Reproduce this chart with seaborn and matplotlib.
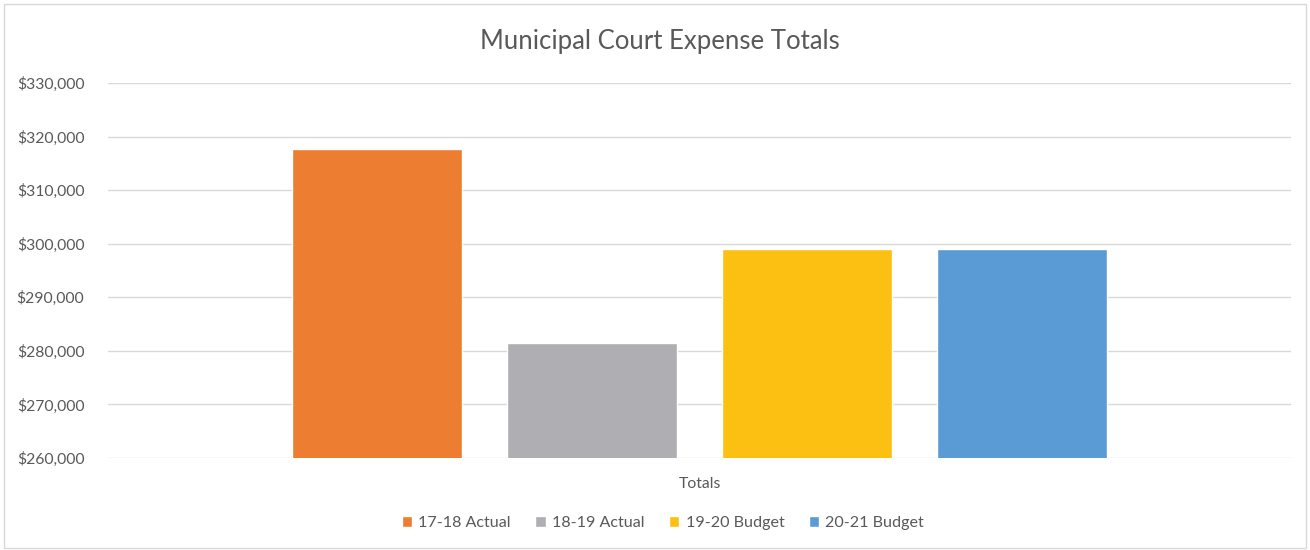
import matplotlib.pyplot as plt
import matplotlib.ticker as mticker
import pandas as pd
import seaborn as sns

sns.set_theme(style="white")
plt.rcParams["font.family"] = ["Lato", "DejaVu Sans"]

# dati
categorie = ["Totals"]
serie = ["17-18 Actual", "18-19 Actual", "19-20 Budget", "20-21 Budget"]
valori = [317700, 281400, 299000, 299000]
colori = ["#ED7D31", "#AFAFB3", "#FCC012", "#5B9BD5"]

df = pd.DataFrame({"Categoria": categorie * len(serie), "Serie": serie, "Valore": valori})

fig = plt.figure(figsize=(13.1, 5.5), dpi=100)
ax = fig.add_axes([0.0824, 0.1673, 0.9031, 0.6818])

sns.barplot(
    data=df,
    x="Categoria",
    y="Valore",
    hue="Serie",
    hue_order=serie,
    palette=colori,
    width=0.727,
    gap=0.21,
    saturation=1,
    ax=ax,
)

ax.set_ylim(260000, 330000)
ax.set_xlim(-0.5, 0.5)
ax.yaxis.set_major_locator(mticker.MultipleLocator(10000))
ax.yaxis.set_major_formatter(mticker.StrMethodFormatter("${x:,.0f}"))
ax.grid(axis="y", color="#D9D9D9", linewidth=1)
ax.set_axisbelow(True)
for s in ax.spines.values():
    s.set_visible(False)
ax.tick_params(axis="both", length=0, colors="#595959", labelsize=11.3, pad=17)
ax.tick_params(axis="x", pad=14)
ax.set_xlabel("")
ax.set_ylabel("")

fig.text(0.504, 0.925, "Municipal Court Expense Totals", fontsize=18.5,
         color="#595959", ha="center", va="center")

ax.legend(
    loc="center",
    bbox_to_anchor=(0.506, 0.049),
    bbox_transform=fig.transFigure,
    ncol=4,
    frameon=False,
    fontsize=11.6,
    labelcolor="#595959",
    handlelength=0.65,
    handleheight=0.65,
    handletextpad=0.4,
    columnspacing=1.5,
)

# bordo dell'area grafico
fig.patches.append(
    plt.Rectangle((0.003, 0.004), 0.994, 0.988, transform=fig.transFigure,
                  fill=False, edgecolor="#D9D9D9", linewidth=1)
)

fig.savefig("out.png", dpi=100)
